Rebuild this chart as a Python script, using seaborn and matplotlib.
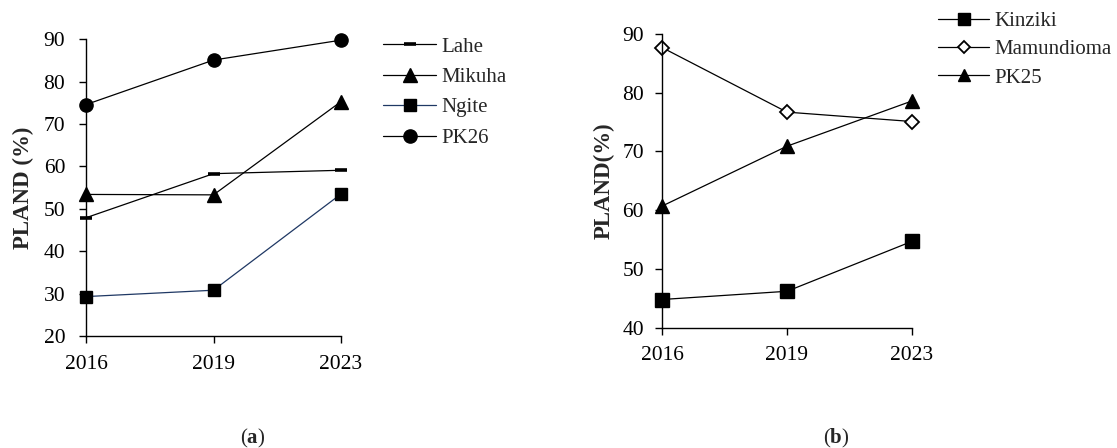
import numpy as np
import pandas as pd
import seaborn as sns
import matplotlib
matplotlib.use('Agg')
import matplotlib.pyplot as plt

# data
years = ['2016', '2019', '2023']

# panel (a)
lahe = [47.9, 58.3, 59.1]
mikuha = [53.4, 53.3, 75.3]
ngite = [29.3, 30.8, 53.5]
pk26 = [74.6, 85.1, 89.8]

# panel (b)
kinziki = [44.8, 46.2, 54.7]
mamundioma = [87.7, 76.7, 75.1]
pk25 = [60.7, 70.9, 78.6]

sns.set_theme(style='ticks')
plt.rcParams['font.family'] = ['Liberation Serif', 'DejaVu Serif']
plt.rcParams['mathtext.fontset'] = 'custom'
plt.rcParams['mathtext.rm'] = 'Liberation Serif'
plt.rcParams['mathtext.bf'] = 'Liberation Serif:bold'

W, H = 1117, 448
fig = plt.figure(figsize=(W / 100, H / 100), dpi=100)


def px_axes(x0, x1, ytop, ybot):
    return fig.add_axes([x0 / W, 1 - ybot / H, (x1 - x0) / W, (ybot - ytop) / H])


def style_axis(ax, ylo, yhi, ypad, xpad):
    ax.set_xlim(0, 2)
    ax.set_ylim(ylo, yhi)
    ax.set_yticks(np.arange(ylo, yhi + 1, 10))
    sns.despine(ax=ax)
    for s in ['left', 'bottom']:
        ax.spines[s].set_color('black')
        ax.spines[s].set_linewidth(1.0)
    ax.tick_params(axis='y', direction='out', length=5, width=1.0, color='black',
                   labelsize=15.5, pad=ypad, labelcolor='black')
    ax.tick_params(axis='x', direction='out', length=5, width=1.0, color='black',
                   labelsize=15.5, pad=xpad, labelcolor='black')
    ax.set_xlabel('')
    ax.set_ylabel('')
    ax.grid(False)


# ---- panel (a)
ax1 = px_axes(86, 341, 39.3, 336)
series_a = [
    ('Lahe', lahe, dict(marker='_', markersize=9, markeredgewidth=2.6, color='black')),
    ('Mikuha', mikuha, dict(marker='^', markersize=9.5, color='black')),
    ('Ngite', ngite, dict(marker='s', markersize=9, color='#1f3864', markerfacecolor='black')),
    ('PK26', pk26, dict(marker='o', markersize=9.5, color='black')),
]
for name, vals, kw in series_a:
    kw.setdefault('markeredgewidth', 1.0)
    sns.lineplot(x=years, y=vals, ax=ax1, label=name, linewidth=0.9, clip_on=False,
                 sort=False, markeredgecolor='black', **kw)
style_axis(ax1, 20, 90, ypad=10, xpad=9)
ax1.legend(loc='upper left', bbox_to_anchor=(383 / W, 1 - 37 / H), bbox_transform=fig.transFigure,
           frameon=False, fontsize=15, handlelength=2.55, handletextpad=0.25,
           labelspacing=0.52, borderpad=0, borderaxespad=0)

# ---- panel (b)
ax2 = px_axes(662, 912, 34, 327.7)
series_b = [
    ('Kinziki', kinziki, dict(marker='s', markersize=10.5, color='black')),
    ('Mamundioma', mamundioma, dict(marker='D', markersize=7.5, color='black',
                                    markerfacecolor='white', markeredgewidth=1.3)),
    ('PK25', pk25, dict(marker='^', markersize=9.5, color='black')),
]
for name, vals, kw in series_b:
    kw.setdefault('markeredgewidth', 1.0)
    sns.lineplot(x=years, y=vals, ax=ax2, label=name, linewidth=0.9, clip_on=False,
                 sort=False, markeredgecolor='black', **kw)
style_axis(ax2, 40, 90, ypad=8, xpad=8)
leg2 = ax2.legend(loc='upper left', bbox_to_anchor=(938 / W, 1 - 11.5 / H),
                  bbox_transform=fig.transFigure, frameon=False, fontsize=15,
                  handlelength=2.45, handletextpad=0.25, labelspacing=0.42,
                  borderpad=0, borderaxespad=0, markerscale=0.85)

# y labels
fig.text(23 / W, 1 - 187.5 / H, 'PLAND (%)', rotation=90, ha='center', va='center',
         fontsize=16.5, fontweight='bold')
fig.text(604.5 / W, 1 - 180.5 / H, 'PLAND(%)', rotation=90, ha='center', va='center',
         fontsize=16.5, fontweight='bold')

# panel captions
fig.text(252.5 / W, 1 - 438 / H, r'($\mathbf{a}$)', ha='center', va='center', fontsize=15)
fig.text(836 / W, 1 - 438 / H, r'($\mathbf{b}$)', ha='center', va='center', fontsize=15)

fig.savefig('out.png', dpi=100)
